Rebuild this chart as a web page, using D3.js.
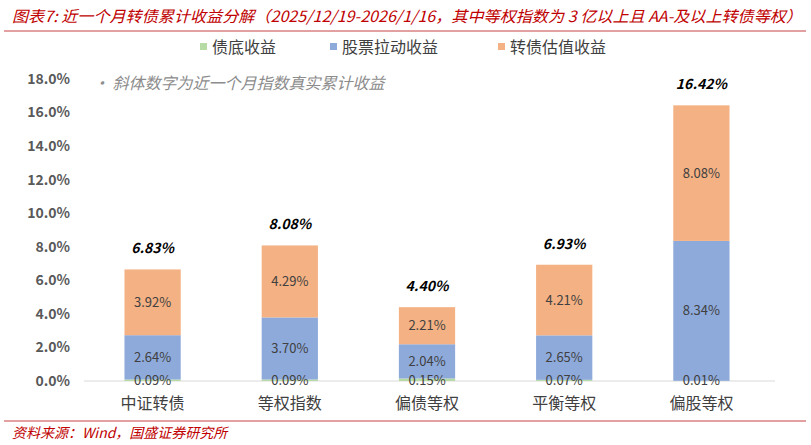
<!DOCTYPE html><html><head><meta charset="utf-8">
<script src="https://cdn.jsdelivr.net/npm/d3@7/dist/d3.min.js"></script>
<style>body{margin:0;background:#fff}svg{display:block}text{font-family:"Noto Sans CJK SC","Noto Sans",sans-serif}</style>
</head><body><svg id="c" width="811" height="445"></svg>
<script>
const categories=["中证转债","等权指数","偏债等权","平衡等权","偏股等权"];
const bondValues=[0.09,0.09,0.15,0.07,0.01];
const stockValues=[2.64,3.70,2.04,2.65,8.34];
const valuationValues=[3.92,4.29,2.21,4.21,8.08];
const totalValues=[6.83,8.08,4.40,6.93,16.42];
const seriesNames=["债底收益","股票拉动收益","转债估值收益"];
const colors=["#b7dba5","#8eaadb","#f4b183"];
const yTicks=[0,2,4,6,8,10,12,14,16,18];

const svg=d3.select("#c");
const x=d3.scaleBand().domain(categories).range([84,770]).paddingInner(0.59).paddingOuter(0.295);
const y=d3.scaleLinear().domain([0,18]).range([381,79]);

svg.append("text").attr("x",12).attr("y",22).attr("fill","#c00000").attr("font-size",15.5).attr("font-style","italic")
 .attr("textLength",790).attr("lengthAdjust","spacingAndGlyphs")
 .text("图表7:  近一个月转债累计收益分解（2025/12/19-2026/1/16，其中等权指数为 3 亿以上且 AA-及以上转债等权）");
svg.append("line").attr("x1",4).attr("x2",806).attr("y1",31).attr("y2",31).attr("stroke","#d88080").attr("stroke-width",1.5);

seriesNames.forEach((n,i)=>{
  const lg=svg.append("g").attr("transform",`translate(${[200,330,498][i]},47)`);
  lg.append("rect").attr("x",0).attr("y",-4).attr("width",7).attr("height",7).attr("fill",colors[i]);
  lg.append("text").attr("x",12).attr("y",0).attr("dy","0.35em").attr("font-size",16).attr("fill","#404040").text(n);
});

svg.append("g").selectAll("text").data(yTicks).join("text").attr("x",70).attr("y",d=>y(d)).attr("dy","0.35em")
 .attr("text-anchor","end").attr("font-size",14).attr("font-weight","bold").attr("fill","#595959").text(d=>d.toFixed(1)+"%");

svg.append("text").attr("x",93).attr("y",89).attr("font-size",16).attr("font-style","italic").attr("fill","#8c8c8c")
 .text("• 斜体数字为近一个月指数真实累计收益");

svg.append("line").attr("x1",84).attr("x2",775).attr("y1",381).attr("y2",381).attr("stroke","#d9d9d9");

const data=categories.map((c,i)=>({c,v:[bondValues[i],stockValues[i],valuationValues[i]],t:totalValues[i]}));
const labels=[];
data.forEach(d=>{
  let acc=0;
  d.v.forEach((v,k)=>{
    const y0=acc,y1=acc+v;acc=y1;
    svg.append("rect").attr("x",x(d.c)).attr("width",x.bandwidth()).attr("y",y(y1)).attr("height",y(y0)-y(y1)).attr("fill",colors[k]);
    labels.push({x:x(d.c)+x.bandwidth()/2,y:k===0?y(0)-1:y((y0+y1)/2),t:v.toFixed(2)+"%"});
  });
  svg.append("text").attr("x",x(d.c)+x.bandwidth()/2).attr("y",y(acc)-16).attr("text-anchor","middle")
   .attr("font-size",14).attr("font-weight","bold").attr("font-style","italic").attr("fill","#000").text(d.t.toFixed(2)+"%");
});
svg.append("g").selectAll("text").data(labels).join("text").attr("x",d=>d.x).attr("y",d=>d.y).attr("dy","0.35em")
 .attr("text-anchor","middle").attr("font-size",13).attr("fill","#404040").text(d=>d.t);

svg.append("g").selectAll("text").data(categories).join("text").attr("x",d=>x(d)+x.bandwidth()/2).attr("y",409)
 .attr("text-anchor","middle").attr("font-size",16).attr("fill","#404040").text(d=>d);

svg.append("line").attr("x1",4).attr("x2",806).attr("y1",421).attr("y2",421).attr("stroke","#d88080").attr("stroke-width",1.5);
svg.append("text").attr("x",12).attr("y",438).attr("font-size",14).attr("font-style","italic").attr("fill","#c00000").text("资料来源：Wind，国盛证券研究所");
</script></body></html>
